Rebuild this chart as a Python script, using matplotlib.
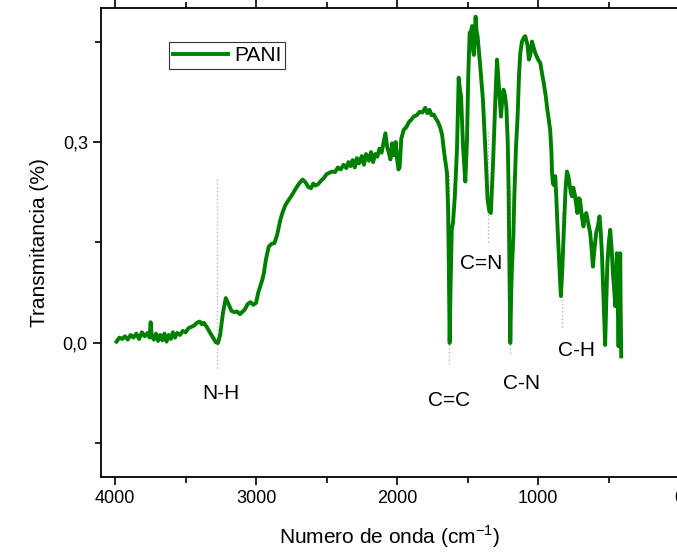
import matplotlib
matplotlib.use("Agg")
import matplotlib.pyplot as plt
from matplotlib.ticker import MultipleLocator, FuncFormatter

plt.rcParams['font.family'] = ['Liberation Sans', 'DejaVu Sans']

# espectro FTIR de PANI
wavenumber = [3990, 3970, 3950, 3930, 3910, 3890, 3870, 3850, 3830, 3810, 3790, 3770, 3755, 3748, 3740,
              3725, 3710, 3695, 3680, 3665, 3650, 3635, 3620, 3605, 3590, 3575, 3560, 3540, 3520, 3500,
              3480, 3460, 3440, 3420, 3400, 3385, 3370, 3350, 3320, 3300, 3285, 3270, 3255, 3235, 3215,
              3195, 3175, 3155, 3135, 3115, 3100, 3080, 3060, 3040, 3020, 3000, 2985, 2970, 2955, 2945,
              2930, 2910, 2890, 2870, 2850, 2828, 2810, 2792, 2770, 2745, 2720, 2695, 2670, 2650, 2630,
              2610, 2595, 2580, 2560, 2540, 2520, 2500, 2480, 2460, 2440, 2420, 2400, 2380, 2360, 2345,
              2330, 2315, 2300, 2285, 2270, 2250, 2235, 2220, 2200, 2185, 2170, 2155, 2140, 2125, 2110,
              2095, 2083, 2070, 2060, 2047, 2035, 2020, 2010, 2000, 1990, 1982, 1970, 1953, 1935, 1915,
              1900, 1882, 1860, 1840, 1820, 1800, 1785, 1770, 1755, 1740, 1725, 1710, 1693, 1680, 1670,
              1660, 1646, 1638, 1633, 1627, 1620, 1612, 1603, 1590, 1575, 1563, 1555, 1546, 1532, 1516,
              1504, 1495, 1485, 1475, 1468, 1460, 1455, 1443, 1436, 1429, 1410, 1391, 1374, 1358, 1345,
              1335, 1320, 1303, 1291, 1283, 1275, 1263, 1255, 1245, 1235, 1225, 1215, 1209, 1203, 1197,
              1190, 1185, 1175, 1169, 1157, 1145, 1135, 1126, 1114, 1100, 1091, 1075, 1065, 1055, 1043,
              1030, 1020, 1000, 984, 970, 961, 945, 937, 925, 914, 905, 901, 895, 890, 878,
              870, 862, 850, 838, 828, 819, 805, 795, 785, 775, 768, 760, 750, 740, 730,
              721, 710, 702, 690, 678, 668, 658, 645, 630, 620, 611, 600, 588, 575, 564,
              555, 547, 535, 524, 515, 508, 498, 488, 478, 469, 460, 453, 447, 441, 435,
              429, 423, 417, 414, 410]
transmitancia = [0.002, 0.008, 0.006, 0.010, 0.005, 0.012, 0.008, 0.014, 0.006, 0.016, 0.010, 0.015, 0.008, 0.031, 0.010,
                 0.005, 0.014, 0.003, 0.012, 0.004, 0.014, 0.002, 0.012, 0.006, 0.016, 0.008, 0.015, 0.012, 0.018, 0.016,
                 0.022, 0.024, 0.026, 0.030, 0.032, 0.028, 0.030, 0.024, 0.013, 0.006, 0.001, 0.000, 0.012, 0.045, 0.067,
                 0.058, 0.048, 0.046, 0.047, 0.043, 0.046, 0.050, 0.058, 0.061, 0.057, 0.060, 0.075, 0.085, 0.095, 0.104,
                 0.125, 0.144, 0.148, 0.149, 0.162, 0.184, 0.196, 0.206, 0.213, 0.221, 0.230, 0.238, 0.244, 0.240, 0.233,
                 0.231, 0.238, 0.235, 0.237, 0.242, 0.246, 0.252, 0.254, 0.256, 0.255, 0.262, 0.259, 0.266, 0.261, 0.270,
                 0.264, 0.273, 0.262, 0.276, 0.268, 0.279, 0.266, 0.282, 0.272, 0.285, 0.270, 0.282, 0.278, 0.290, 0.284,
                 0.300, 0.313, 0.292, 0.285, 0.274, 0.298, 0.280, 0.300, 0.275, 0.259, 0.262, 0.305, 0.318, 0.322, 0.330,
                 0.333, 0.338, 0.340, 0.345, 0.344, 0.351, 0.343, 0.348, 0.340, 0.341, 0.335, 0.330, 0.321, 0.310, 0.291,
                 0.275, 0.254, 0.200, 0.120, 0.000, 0.090, 0.170, 0.180, 0.220, 0.289, 0.396, 0.380, 0.368, 0.293, 0.241,
                 0.303, 0.400, 0.463, 0.465, 0.473, 0.435, 0.430, 0.487, 0.465, 0.458, 0.413, 0.363, 0.289, 0.214, 0.196,
                 0.194, 0.264, 0.363, 0.423, 0.400, 0.373, 0.338, 0.360, 0.378, 0.370, 0.353, 0.300, 0.229, 0.120, 0.000,
                 0.080, 0.114, 0.160, 0.214, 0.290, 0.338, 0.400, 0.433, 0.450, 0.456, 0.458, 0.445, 0.423, 0.430, 0.450,
                 0.440, 0.433, 0.423, 0.418, 0.400, 0.390, 0.368, 0.353, 0.335, 0.318, 0.285, 0.254, 0.240, 0.236, 0.249,
                 0.215, 0.174, 0.120, 0.070, 0.110, 0.159, 0.230, 0.256, 0.249, 0.235, 0.225, 0.219, 0.232, 0.222, 0.208,
                 0.194, 0.216, 0.214, 0.190, 0.174, 0.190, 0.194, 0.180, 0.164, 0.140, 0.114, 0.140, 0.164, 0.175, 0.189,
                 0.165, 0.134, 0.060, -0.003, 0.070, 0.119, 0.150, 0.169, 0.140, 0.104, 0.080, 0.055, 0.100, 0.134, 0.060,
                 -0.005, 0.080, 0.134, 0.050, -0.020]

# bandas asignadas
band_names = ['N-H', 'C=C', 'C=N', 'C-N', 'C-H']
band_pos = [3277, 1632, 1353, 1197, 832]
band_top = [0.245, 0.251, 0.318, 0.233, 0.194]
band_bottom = [-0.038, -0.032, 0.150, -0.015, 0.024]
label_x = [3247, 1630, 1403, 1117, 730]
label_y = [-0.076, -0.086, 0.118, -0.061, -0.011]

fig = plt.figure(figsize=(6.77, 5.52), dpi=100)
ax = fig.add_axes([0.1492, 0.1359, 0.8538, 0.8496])

ax.vlines(band_pos, band_bottom, band_top, colors='#aaaaaa', linestyles=(0, (1, 2)), linewidth=0.9)
ax.plot(wavenumber, transmitancia, color='#008000', linewidth=2.8, label='PANI')

for name, x, y in zip(band_names, label_x, label_y):
    ax.text(x, y, name, ha='center', va='center', fontsize=15)

ax.set_xlim(4100, 0)
ax.set_ylim(-0.2, 0.5)
ax.xaxis.set_major_locator(MultipleLocator(1000))
ax.xaxis.set_minor_locator(MultipleLocator(500))
ax.yaxis.set_major_locator(MultipleLocator(0.3))
ax.yaxis.set_minor_locator(MultipleLocator(0.15))
ax.yaxis.set_major_formatter(FuncFormatter(lambda v, p: f"{v:.1f}".replace('.', ',')))
ax.tick_params(which='both', direction='out', top=True, right=True, labelsize=13, width=1.2)
ax.tick_params(which='major', length=6)
ax.tick_params(which='minor', length=4)
for s in ax.spines.values():
    s.set_linewidth(1.3)

ax.set_xlabel('Numero de onda (cm$^{\\mathregular{-1}}$)', fontsize=15, labelpad=12)
ax.set_ylabel('Transmitancia (%)', fontsize=15, labelpad=10)

leg = ax.legend(loc='upper left', bbox_to_anchor=(0.118, 0.928), fontsize=15, frameon=True,
                fancybox=False, handlelength=2.6, borderpad=0.2, handletextpad=0.3, borderaxespad=0)
leg.get_frame().set_edgecolor('black')
leg.get_frame().set_linewidth(0.8)

fig.savefig('out.png', dpi=100)
